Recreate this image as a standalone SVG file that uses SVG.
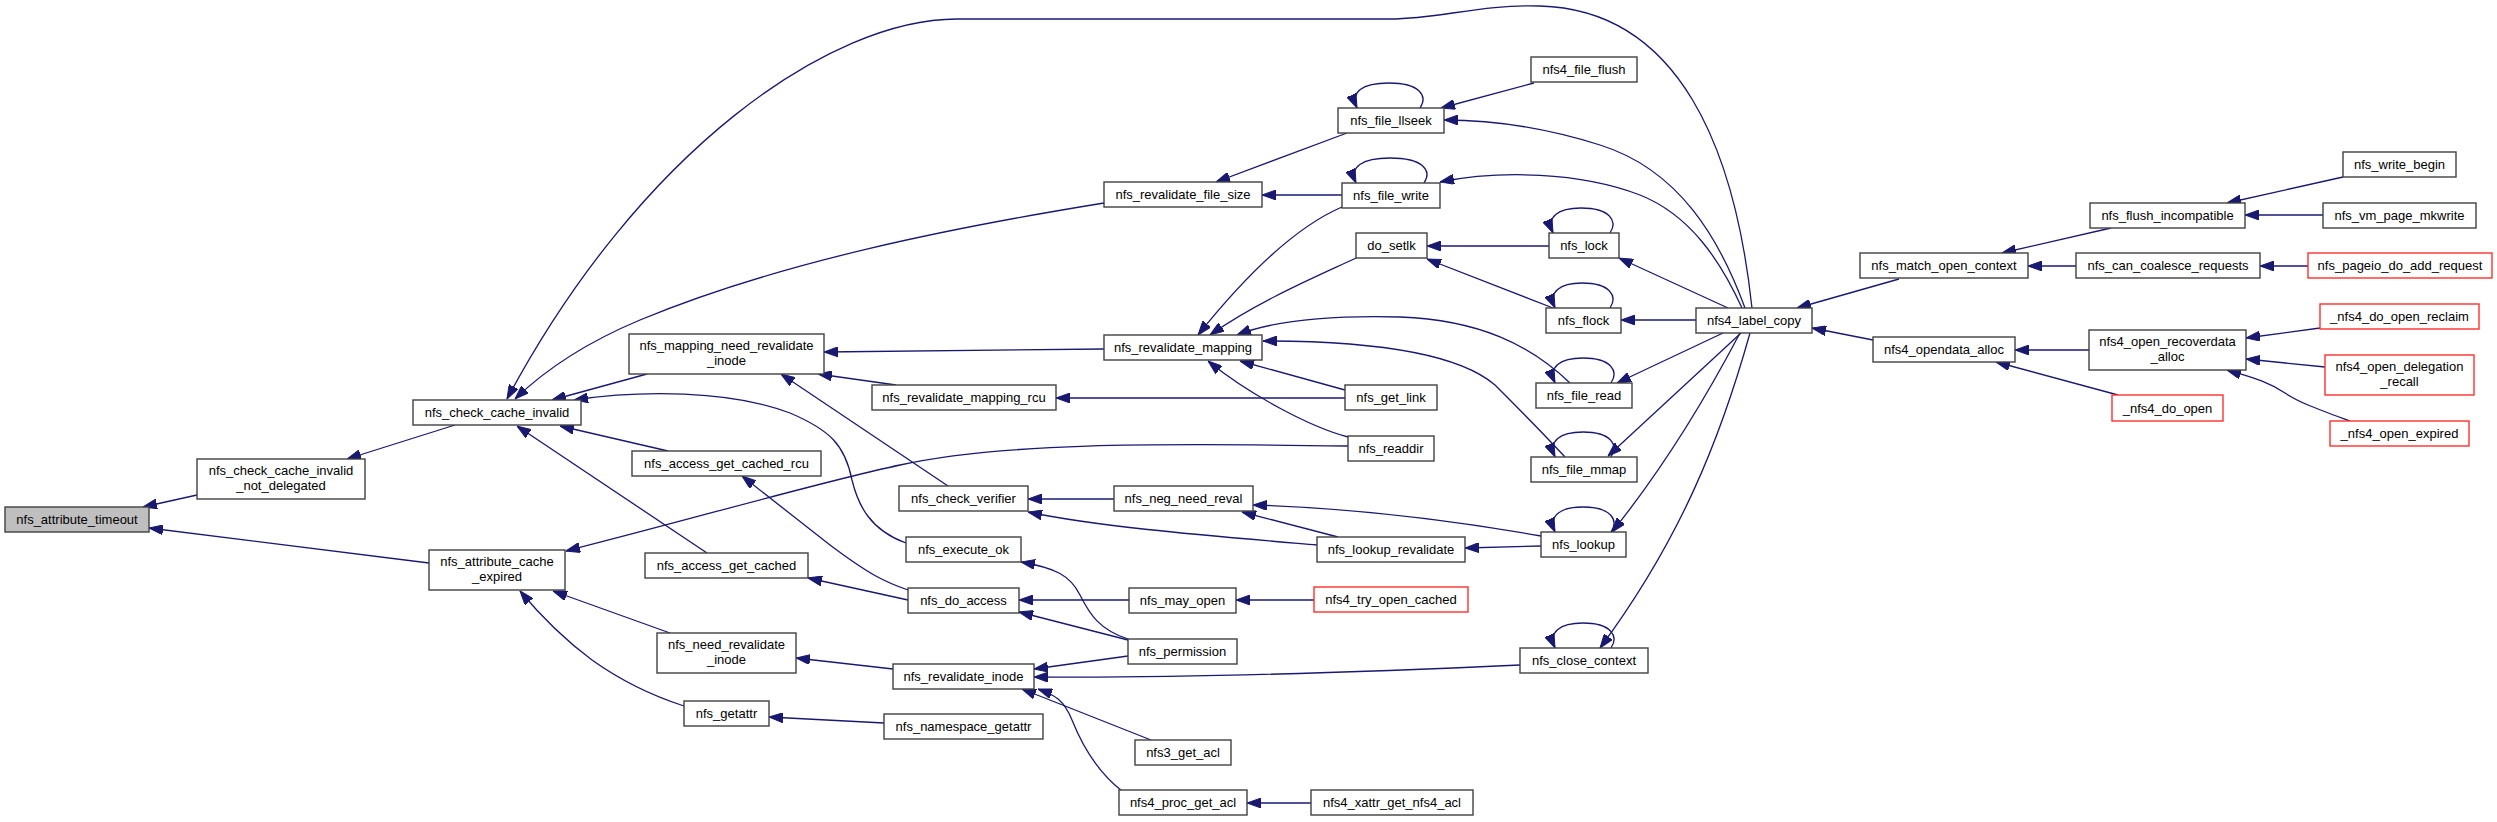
<svg xmlns="http://www.w3.org/2000/svg" width="2497" height="822" viewBox="0 0 2497 822">
<style>
.node rect{fill:#ffffff;stroke:#404040;stroke-width:1.4}
.root rect{fill:#bfbfbf}
.red rect{stroke:#ff3030}
text{font-family:"Liberation Sans",Arial,sans-serif;font-size:13px;text-anchor:middle;fill:#000}
#edges path{fill:none;stroke:#191970;stroke-width:1.3;marker-end:url(#ah)}
</style>
<defs>
<marker id="ah" markerWidth="14" markerHeight="10" refX="14" refY="5" orient="auto" markerUnits="userSpaceOnUse" viewBox="0 0 14 10">
<path d="M0,0 L14,5 L0,10 z" fill="#191970" stroke="#191970" stroke-width="1"/>
</marker>
</defs>
<rect x="0" y="0" width="2497" height="822" fill="#ffffff"/>
<g id="edges">
<path d="M197,495 L143,507"/>
<path d="M429,563 L149,528"/>
<path d="M455,425 L347,459"/>
<path d="M1752,308 C1735,150 1680,10 1540,6 C1480,4 1440,19 1390,19 L957,19 C830,19 640,150 507,399"/>
<path d="M1104,203 C950,228 780,262 640,320 C585,343 545,370 515,399"/>
<path d="M647,374 L552,400"/>
<path d="M906,543 C870,530 858,505 852,480 C845,445 830,430 790,413 C730,390 640,390 574,400"/>
<path d="M668,451 L560,426"/>
<path d="M707,553 L517,426"/>
<path d="M1348,446 C1150,443 1000,443 900,465 C820,482 700,517 566,551"/>
<path d="M670,633 L553,591"/>
<path d="M684,706 C650,695 620,680 592,660 C565,640 540,615 520,591"/>
<path d="M1104,349 L824,352"/>
<path d="M896,385 L818,374"/>
<path d="M948,486 L781,374"/>
<path d="M1347,133 L1216,182"/>
<path d="M1342,195 L1262,195"/>
<path d="M1420,108 C1428,96 1420,83 1389,83 C1362,83 1350,92 1357,108"/>
<path d="M1534,83 L1441,108"/>
<path d="M1745,308 C1720,240 1680,170 1600,145 C1540,126 1490,120 1444,120"/>
<path d="M1424,183 C1432,171 1424,158 1390,158 C1362,158 1349,167 1356,183"/>
<path d="M1742,308 C1720,260 1690,215 1640,195 C1580,172 1500,170 1440,182"/>
<path d="M1342,207 C1300,225 1250,270 1198,335"/>
<path d="M1356,258 C1320,275 1260,300 1210,335"/>
<path d="M1570,383 C1530,345 1480,320 1400,317 C1320,315 1270,322 1237,335"/>
<path d="M1565,457 C1540,430 1515,405 1495,385 C1460,355 1380,341 1263,341"/>
<path d="M1345,390 L1240,361"/>
<path d="M1348,437 C1310,427 1250,395 1208,361"/>
<path d="M1345,398 L1056,398"/>
<path d="M1114,499 L1028,499"/>
<path d="M1317,545 C1200,535 1100,527 1028,512"/>
<path d="M1338,537 L1242,512"/>
<path d="M1541,536 C1450,520 1350,508 1253,505"/>
<path d="M1541,546 L1465,548"/>
<path d="M1611,532 C1619,520 1611,507 1583,507 C1560,507 1548,516 1555,532"/>
<path d="M1740,333 C1710,390 1670,460 1612,532"/>
<path d="M908,590 C885,582 870,575 830,545 L742,476"/>
<path d="M908,600 L808,578"/>
<path d="M1129,600 L1019,600"/>
<path d="M1128,640 L1019,612"/>
<path d="M1128,639 C1100,630 1090,615 1080,595 C1070,575 1055,568 1021,562"/>
<path d="M1314,600 L1236,600"/>
<path d="M893,669 L796,658"/>
<path d="M1128,656 L1034,669"/>
<path d="M1520,665 C1300,675 1150,678 1034,677"/>
<path d="M1151,740 L1022,689"/>
<path d="M1122,791 C1095,770 1080,740 1072,720 C1064,700 1055,695 1038,689"/>
<path d="M884,723 L769,717"/>
<path d="M1311,803 L1247,803"/>
<path d="M1611,648 C1619,636 1611,623 1583,623 C1560,623 1548,632 1555,648"/>
<path d="M1750,333 C1720,440 1680,540 1600,648"/>
<path d="M1549,246 L1427,246"/>
<path d="M1553,308 L1427,259"/>
<path d="M1610,233 C1618,221 1610,208 1581,208 C1558,208 1546,217 1553,233"/>
<path d="M1728,308 L1619,258"/>
<path d="M1610,308 C1618,296 1610,283 1582,283 C1560,283 1548,292 1555,308"/>
<path d="M1696,320 L1621,320"/>
<path d="M1611,383 C1619,371 1611,358 1583,358 C1560,358 1548,367 1555,383"/>
<path d="M1723,333 L1617,383"/>
<path d="M1611,457 C1619,445 1611,432 1583,432 C1560,432 1548,441 1555,457"/>
<path d="M1741,333 L1608,456"/>
<path d="M1899,279 L1797,308"/>
<path d="M1873,340 L1812,328"/>
<path d="M2111,228 L2002,253"/>
<path d="M2076,266 L2028,266"/>
<path d="M2343,177 L2227,203"/>
<path d="M2323,215 L2245,215"/>
<path d="M2308,266 L2260,266"/>
<path d="M2089,350 L2015,350"/>
<path d="M2118,395 L1996,362"/>
<path d="M2320,328 L2246,338"/>
<path d="M2325,367 L2246,359"/>
<path d="M2350,421 C2320,410 2300,403 2285,393 C2265,380 2250,377 2227,370"/>
</g>
<g id="nfs_attribute_timeout" class="node root"><rect x="5" y="507" width="144" height="25"/><text x="77" y="523.5">nfs_attribute_timeout</text></g>
<g id="nfs_check_cache_invalid_not_delegated" class="node"><rect x="197" y="459" width="168" height="40"/><text x="281" y="475">nfs_check_cache_invalid</text><text x="281" y="490">_not_delegated</text></g>
<g id="nfs_check_cache_invalid" class="node"><rect x="413" y="400" width="168" height="25"/><text x="497" y="416.5">nfs_check_cache_invalid</text></g>
<g id="nfs_attribute_cache_expired" class="node"><rect x="429" y="550" width="136" height="40"/><text x="497" y="566">nfs_attribute_cache</text><text x="497" y="581">_expired</text></g>
<g id="nfs_mapping_need_revalidate_inode" class="node"><rect x="629" y="334" width="195" height="40"/><text x="726.5" y="350">nfs_mapping_need_revalidate</text><text x="726.5" y="365">_inode</text></g>
<g id="nfs_access_get_cached_rcu" class="node"><rect x="632" y="451" width="189" height="25"/><text x="726.5" y="467.5">nfs_access_get_cached_rcu</text></g>
<g id="nfs_access_get_cached" class="node"><rect x="645" y="553" width="163" height="25"/><text x="726.5" y="569.5">nfs_access_get_cached</text></g>
<g id="nfs_need_revalidate_inode" class="node"><rect x="657" y="633" width="139" height="40"/><text x="726.5" y="649">nfs_need_revalidate</text><text x="726.5" y="664">_inode</text></g>
<g id="nfs_getattr" class="node"><rect x="684" y="701" width="85" height="25"/><text x="726.5" y="717.5">nfs_getattr</text></g>
<g id="nfs_revalidate_file_size" class="node"><rect x="1104" y="182" width="158" height="25"/><text x="1183" y="198.5">nfs_revalidate_file_size</text></g>
<g id="nfs_revalidate_mapping" class="node"><rect x="1104" y="335" width="158" height="25"/><text x="1183" y="351.5">nfs_revalidate_mapping</text></g>
<g id="nfs_revalidate_mapping_rcu" class="node"><rect x="872" y="385" width="184" height="25"/><text x="964" y="401.5">nfs_revalidate_mapping_rcu</text></g>
<g id="nfs_check_verifier" class="node"><rect x="899" y="486" width="129" height="25"/><text x="963.5" y="502.5">nfs_check_verifier</text></g>
<g id="nfs_execute_ok" class="node"><rect x="906" y="537" width="115" height="25"/><text x="963.5" y="553.5">nfs_execute_ok</text></g>
<g id="nfs_do_access" class="node"><rect x="908" y="588" width="111" height="25"/><text x="963.5" y="604.5">nfs_do_access</text></g>
<g id="nfs_revalidate_inode" class="node"><rect x="893" y="664" width="141" height="25"/><text x="963.5" y="680.5">nfs_revalidate_inode</text></g>
<g id="nfs_namespace_getattr" class="node"><rect x="884" y="714" width="159" height="25"/><text x="963.5" y="730.5">nfs_namespace_getattr</text></g>
<g id="nfs_neg_need_reval" class="node"><rect x="1114" y="486" width="139" height="25"/><text x="1183.5" y="502.5">nfs_neg_need_reval</text></g>
<g id="nfs_may_open" class="node"><rect x="1129" y="588" width="107" height="25"/><text x="1182.5" y="604.5">nfs_may_open</text></g>
<g id="nfs_permission" class="node"><rect x="1128" y="639" width="109" height="25"/><text x="1182.5" y="655.5">nfs_permission</text></g>
<g id="nfs3_get_acl" class="node"><rect x="1135" y="740" width="96" height="25"/><text x="1183" y="756.5">nfs3_get_acl</text></g>
<g id="nfs4_proc_get_acl" class="node"><rect x="1119" y="790" width="128" height="25"/><text x="1183" y="806.5">nfs4_proc_get_acl</text></g>
<g id="nfs4_xattr_get_nfs4_acl" class="node"><rect x="1311" y="790" width="162" height="25"/><text x="1392" y="806.5">nfs4_xattr_get_nfs4_acl</text></g>
<g id="nfs_file_llseek" class="node"><rect x="1338" y="108" width="106" height="25"/><text x="1391" y="124.5">nfs_file_llseek</text></g>
<g id="nfs_file_write" class="node"><rect x="1342" y="183" width="98" height="25"/><text x="1391" y="199.5">nfs_file_write</text></g>
<g id="do_setlk" class="node"><rect x="1356" y="233" width="71" height="25"/><text x="1391.5" y="249.5">do_setlk</text></g>
<g id="nfs_get_link" class="node"><rect x="1345" y="385" width="92" height="25"/><text x="1391" y="401.5">nfs_get_link</text></g>
<g id="nfs_readdir" class="node"><rect x="1348" y="436" width="86" height="25"/><text x="1391" y="452.5">nfs_readdir</text></g>
<g id="nfs_lookup_revalidate" class="node"><rect x="1317" y="537" width="148" height="25"/><text x="1391" y="553.5">nfs_lookup_revalidate</text></g>
<g id="nfs4_try_open_cached" class="node red"><rect x="1314" y="587" width="154" height="25"/><text x="1391" y="603.5">nfs4_try_open_cached</text></g>
<g id="nfs4_file_flush" class="node"><rect x="1531" y="57" width="106" height="25"/><text x="1584" y="73.5">nfs4_file_flush</text></g>
<g id="nfs_lock" class="node"><rect x="1549" y="233" width="70" height="25"/><text x="1584" y="249.5">nfs_lock</text></g>
<g id="nfs_flock" class="node"><rect x="1546" y="308" width="75" height="25"/><text x="1583.5" y="324.5">nfs_flock</text></g>
<g id="nfs_file_read" class="node"><rect x="1536" y="383" width="96" height="25"/><text x="1584" y="399.5">nfs_file_read</text></g>
<g id="nfs_file_mmap" class="node"><rect x="1531" y="457" width="106" height="25"/><text x="1584" y="473.5">nfs_file_mmap</text></g>
<g id="nfs_lookup" class="node"><rect x="1541" y="532" width="85" height="25"/><text x="1583.5" y="548.5">nfs_lookup</text></g>
<g id="nfs_close_context" class="node"><rect x="1520" y="648" width="128" height="25"/><text x="1584" y="664.5">nfs_close_context</text></g>
<g id="nfs4_label_copy" class="node"><rect x="1696" y="308" width="116" height="25"/><text x="1754" y="324.5">nfs4_label_copy</text></g>
<g id="nfs_match_open_context" class="node"><rect x="1860" y="253" width="168" height="25"/><text x="1944" y="269.5">nfs_match_open_context</text></g>
<g id="nfs4_opendata_alloc" class="node"><rect x="1873" y="337" width="142" height="25"/><text x="1944" y="353.5">nfs4_opendata_alloc</text></g>
<g id="nfs_flush_incompatible" class="node"><rect x="2090" y="203" width="155" height="25"/><text x="2167.5" y="219.5">nfs_flush_incompatible</text></g>
<g id="nfs_can_coalesce_requests" class="node"><rect x="2076" y="253" width="184" height="25"/><text x="2168" y="269.5">nfs_can_coalesce_requests</text></g>
<g id="nfs4_open_recoverdata_alloc" class="node"><rect x="2089" y="330" width="157" height="40"/><text x="2167.5" y="346">nfs4_open_recoverdata</text><text x="2167.5" y="361">_alloc</text></g>
<g id="_nfs4_do_open" class="node red"><rect x="2112" y="395" width="111" height="26"/><text x="2167.5" y="412.5">_nfs4_do_open</text></g>
<g id="nfs_write_begin" class="node"><rect x="2343" y="152" width="113" height="25"/><text x="2399.5" y="168.5">nfs_write_begin</text></g>
<g id="nfs_vm_page_mkwrite" class="node"><rect x="2323" y="203" width="153" height="25"/><text x="2399.5" y="219.5">nfs_vm_page_mkwrite</text></g>
<g id="nfs_pageio_do_add_request" class="node red"><rect x="2308" y="253" width="184" height="25"/><text x="2400" y="269.5">nfs_pageio_do_add_request</text></g>
<g id="_nfs4_do_open_reclaim" class="node red"><rect x="2320" y="304" width="159" height="25"/><text x="2399.5" y="320.5">_nfs4_do_open_reclaim</text></g>
<g id="nfs4_open_delegation_recall" class="node red"><rect x="2325" y="355" width="149" height="40"/><text x="2399.5" y="371">nfs4_open_delegation</text><text x="2399.5" y="386">_recall</text></g>
<g id="_nfs4_open_expired" class="node red"><rect x="2330" y="421" width="139" height="25"/><text x="2399.5" y="437.5">_nfs4_open_expired</text></g>
</svg>
